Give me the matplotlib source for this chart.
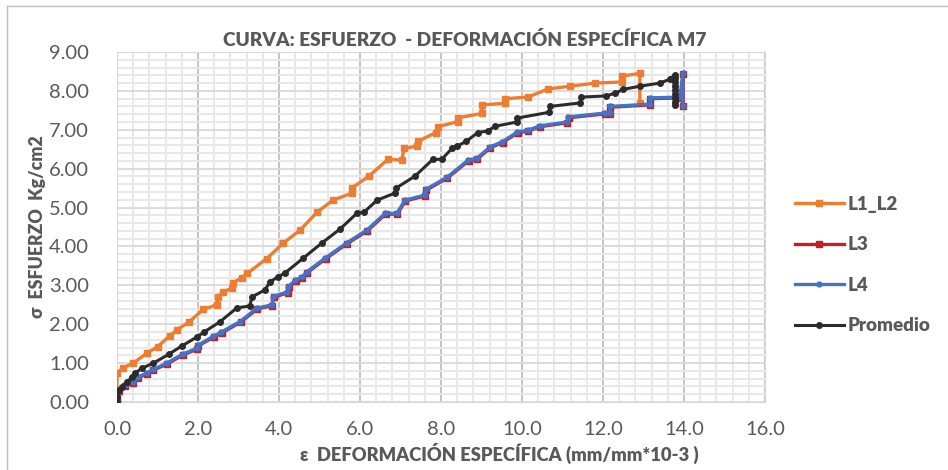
import matplotlib
matplotlib.use('Agg')
import matplotlib.pyplot as plt
import numpy as np

plt.rcParams['font.family'] = ['Lato', 'DejaVu Sans']

# L1_L2
x_l12 = [0, 0, 0.14, 0.4, 0.73, 1.0, 1.3, 1.47, 1.78, 2.13, 2.46, 2.5, 2.61, 2.83, 2.87, 3.08, 3.22, 3.7,
         4.1, 4.52, 4.94, 5.33, 5.8, 5.8, 6.22, 6.69, 7.03, 7.09, 7.4, 7.43, 7.87, 7.93, 8.42, 8.42, 9.01,
         9.01, 9.58, 9.58, 10.15, 10.64, 11.19, 11.8, 12.47, 12.47, 12.91, 12.91]
y_l12 = [0, 0.75, 0.87, 1.0, 1.25, 1.42, 1.7, 1.85, 2.06, 2.38, 2.5, 2.7, 2.83, 2.92, 3.07, 3.2, 3.31, 3.69,
         4.08, 4.42, 4.88, 5.19, 5.37, 5.5, 5.81, 6.24, 6.22, 6.52, 6.58, 6.7, 6.93, 7.08, 7.21, 7.31, 7.42,
         7.64, 7.68, 7.8, 7.84, 8.05, 8.12, 8.2, 8.23, 8.38, 8.45, 7.68]

# L4
x_l4 = [0, 0.0, 0.05, 0.2, 0.4, 0.52, 0.73, 0.9, 1.23, 1.62, 1.97, 2.0, 2.38, 2.58, 3.04, 3.45, 3.82, 3.86,
        4.2, 4.23, 4.4, 4.57, 4.69, 5.14, 5.67, 6.17, 6.62, 6.91, 7.11, 7.6, 7.63, 8.15, 8.67, 8.89, 9.21,
        9.51, 9.88, 10.15, 10.44, 11.11, 11.14, 12.05, 12.17, 12.17, 13.16, 13.16, 13.9, 13.97, 13.97]
y_l4 = [0, 0.15, 0.3, 0.43, 0.52, 0.64, 0.74, 0.84, 1.0, 1.23, 1.38, 1.46, 1.69, 1.8, 2.07, 2.41, 2.5, 2.71,
        2.83, 2.97, 3.13, 3.22, 3.35, 3.7, 4.09, 4.42, 4.85, 4.85, 5.19, 5.32, 5.47, 5.78, 6.22, 6.27, 6.56,
        6.69, 6.94, 6.99, 7.1, 7.2, 7.33, 7.43, 7.43, 7.6, 7.66, 7.82, 7.84, 8.45, 7.62]

# L3 (casi igual a L4)
x_l3 = [0, 0.0, 0.05, 0.2, 0.4, 0.52, 0.73, 0.9, 1.24, 1.63, 1.98, 2.0, 2.39, 2.59, 3.05, 3.46, 3.83, 3.87,
        4.21, 4.24, 4.41, 4.58, 4.7, 5.15, 5.68, 6.18, 6.63, 6.92, 7.12, 7.61, 7.64, 8.16, 8.68, 8.9, 9.22,
        9.52, 9.89, 10.16, 10.45, 11.12, 11.15, 12.06, 12.18, 12.18, 13.17, 13.17, 13.91, 13.98, 13.98]
y_l3 = [0, 0.13, 0.28, 0.41, 0.5, 0.62, 0.72, 0.82, 0.98, 1.21, 1.36, 1.44, 1.67, 1.78, 2.05, 2.39, 2.48, 2.69,
        2.81, 2.95, 3.11, 3.2, 3.33, 3.68, 4.07, 4.4, 4.83, 4.83, 5.17, 5.3, 5.45, 5.76, 6.2, 6.25, 6.54,
        6.67, 6.92, 6.97, 7.08, 7.18, 7.31, 7.41, 7.41, 7.58, 7.64, 7.8, 7.82, 8.43, 7.6]

# Promedio
x_prom = [0, 0, 0.05, 0.12, 0.25, 0.37, 0.44, 0.62, 0.9, 1.28, 1.6, 1.97, 2.15, 2.54, 2.96, 3.28, 3.33,
          3.65, 3.78, 3.98, 4.15, 4.6, 5.06, 5.51, 5.93, 6.1, 6.42, 6.86, 6.89, 7.36, 7.8, 8.02, 8.27, 8.4,
          8.62, 8.91, 9.16, 9.33, 9.88, 9.88, 10.67, 10.69, 11.43, 11.46, 12.07, 12.3, 12.5, 12.91, 13.4,
          13.65, 13.78, 13.78, 13.78, 13.78, 13.78, 13.78, 13.78, 13.78, 13.78]
y_prom = [0, 0.13, 0.3, 0.39, 0.52, 0.64, 0.74, 0.87, 1.0, 1.23, 1.44, 1.67, 1.8, 2.06, 2.42, 2.47, 2.7,
          2.88, 3.09, 3.22, 3.32, 3.7, 4.09, 4.45, 4.86, 4.88, 5.19, 5.37, 5.5, 5.81, 6.24, 6.24, 6.52, 6.58,
          6.7, 6.93, 6.97, 7.09, 7.2, 7.3, 7.45, 7.6, 7.69, 7.84, 7.87, 7.94, 8.04, 8.12, 8.2, 8.3, 8.42,
          8.32, 8.22, 8.12, 8.02, 7.92, 7.82, 7.72, 7.64]

gray = '#595959'

fig = plt.figure(figsize=(9.48, 4.7), dpi=100)
ax = fig.add_axes([117/948, 68/470, 648/948, 350/470])

ax.plot(x_l12, y_l12, color='#ED7D31', lw=2.4, marker='s', ms=4.5, label='L1_L2', zorder=3)
ax.plot(x_l3, y_l3, color='#C0202A', lw=2.4, marker='s', ms=4, label='L3', zorder=4)
ax.plot(x_l4, y_l4, color='#4472C4', lw=2.4, marker='o', ms=3.5, label='L4', zorder=5)
ax.plot(x_prom, y_prom, color='#2B2B2B', lw=2.2, marker='o', ms=4, label='Promedio', zorder=6)

ax.set_xlim(0, 16)
ax.set_ylim(0, 9)
ax.set_xticks(np.arange(0, 16.1, 2))
ax.set_yticks(np.arange(0, 9.1, 1))
ax.set_xticks(np.arange(0, 16.01, 0.4), minor=True)
ax.set_yticks(np.arange(0, 9.01, 0.2), minor=True)
ax.set_xticklabels(['%.1f' % v for v in np.arange(0, 16.1, 2)])
ax.set_yticklabels(['%.2f' % v for v in np.arange(0, 9.1, 1)])
ax.grid(which='minor', color='#E8E8E8', lw=1.5)
ax.grid(which='major', axis='y', color='#D9D9D9', lw=1.3)
ax.grid(which='major', axis='x', color='#BFBFBF', lw=1.3)
ax.set_axisbelow(True)
ax.tick_params(which='both', length=0)
ax.tick_params(axis='y', pad=20, labelsize=14.5, labelcolor=gray)
ax.tick_params(axis='x', pad=14, labelsize=14.5, labelcolor=gray)
for s in ax.spines.values():
    s.set_color('#D9D9D9')

fig.text(465/948, 1 - 40/470, 'CURVA: ESFUERZO  - DEFORMACIÓN ESPECÍFICA M7', ha='center', va='center',
         fontsize=13.8, fontweight='heavy', color=gray)
fig.text(499/948, 1 - 453/470, 'ε  DEFORMACIÓN ESPECÍFICA (mm/mm*10-3 )', ha='center', va='center',
         fontsize=13.2, fontweight='heavy', color=gray)
fig.text(38/948, 1 - 227/470, 'σ  ESFUERZO  Kg/cm2', ha='center', va='center', rotation=90,
         fontsize=12.8, fontweight='heavy', color=gray)

leg = ax.legend(loc='center left', bbox_to_anchor=(778/948, 1 - 265/470), bbox_transform=fig.transFigure,
                frameon=False, fontsize=13.5, labelspacing=1.25, handlelength=2.6, handletextpad=0.2)
for t in leg.get_texts():
    t.set_color(gray)
    t.set_fontweight('heavy')

# marco exterior
fig.add_artist(plt.Line2D([7/948, 7/948], [0, 1 - 6/470], color='#BFBFBF', lw=1, transform=fig.transFigure))
fig.add_artist(plt.Line2D([7/948, 1], [1 - 6/470, 1 - 6/470], color='#BFBFBF', lw=1, transform=fig.transFigure))

fig.savefig('out.png', dpi=100)
